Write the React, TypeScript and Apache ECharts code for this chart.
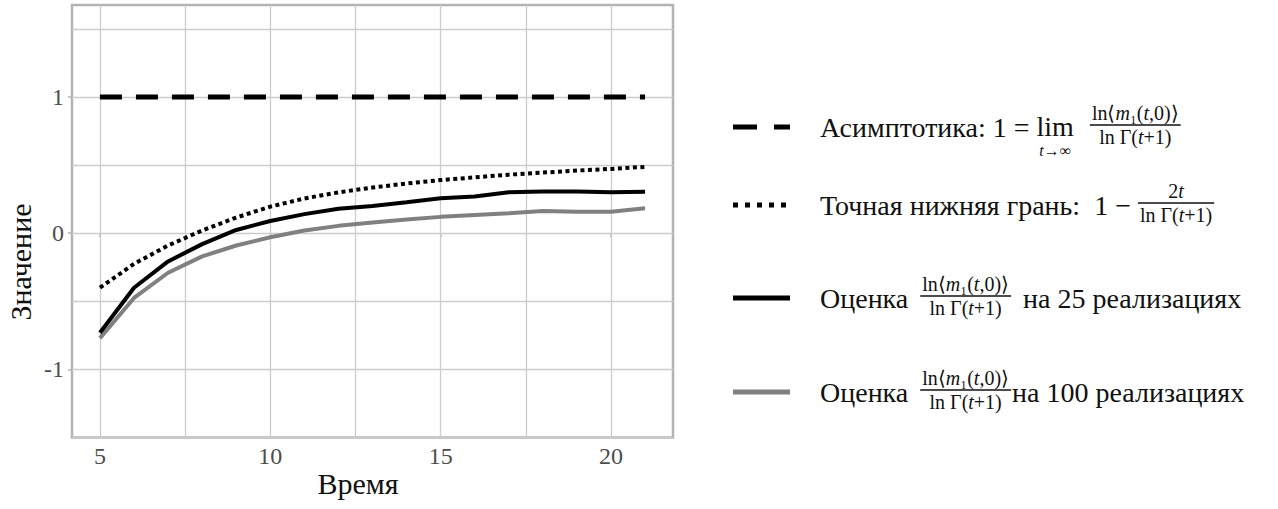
import React, { useEffect, useRef } from "react";
import * as echarts from "echarts";

// ---------- data ----------
const times = [5, 6, 7, 8, 9, 10, 11, 12, 13, 14, 15, 16, 17, 18, 19, 20, 21];
const asymptote = [1, 1, 1, 1, 1, 1, 1, 1, 1, 1, 1, 1, 1, 1, 1, 1, 1];
const lowerBound = [-0.4, -0.225, -0.09, 0.02, 0.115, 0.195, 0.255, 0.3, 0.335, 0.365, 0.39, 0.41, 0.43, 0.445, 0.46, 0.472, 0.487];
const est25 = [-0.73, -0.4, -0.207, -0.08, 0.024, 0.09, 0.14, 0.18, 0.2, 0.227, 0.256, 0.27, 0.3, 0.307, 0.307, 0.3, 0.305];
const est100 = [-0.77, -0.475, -0.29, -0.17, -0.09, -0.03, 0.02, 0.054, 0.078, 0.1, 0.12, 0.134, 0.146, 0.163, 0.158, 0.158, 0.183];
const xTickLabels = [5, 10, 15, 20];
const yTickLabels = [-1, 0, 1];
const xGridLines = [5, 7.5, 10, 12.5, 15, 17.5, 20];
const yGridLines = [-1.5, -1, -0.5, 0, 0.5, 1, 1.5];
const xAxisTitle = "Время";
const yAxisTitle = "Значение";

const SERIF = "'Liberation Serif', 'Times New Roman', serif";

let measureCtx: CanvasRenderingContext2D | null = null;
function measure(text: string, size: number, italic = false): number {
  if (!measureCtx) measureCtx = document.createElement("canvas").getContext("2d");
  if (!measureCtx) return text.length * size * 0.5;
  measureCtx.font = `${italic ? "italic " : ""}${size}px ${SERIF}`;
  return measureCtx.measureText(text).width;
}

type Seg = [string, boolean];
const MAIN = 28;
const SMALL = 20;
const SUB = 16;

function richText(segs: Seg[], size: number) {
  return {
    text: segs.map(([t, it]) => `{${it ? "i" : "n"}|${t}}`).join(""),
    rich: {
      n: { fontSize: size, fontFamily: SERIF, fill: "#111" },
      i: { fontSize: size, fontFamily: SERIF, fontStyle: "italic", fill: "#111" },
    },
  };
}
function segWidth(segs: Seg[], size: number) {
  return segs.reduce((s, [t, it]) => s + measure(t, size, it), 0);
}

const numLn: Seg[] = [["ln⟨", false], ["m", true], ["₁(", false], ["t", true], [",0)⟩", false]];
const denLn: Seg[] = [["ln Γ(", false], ["t", true], ["+1)", false]];
const num2t: Seg[] = [["2", false], ["t", true]];

function plainText(text: string, x: number, y: number, size = MAIN) {
  return {
    type: "text",
    x,
    y,
    style: { text, fontSize: size, fontFamily: SERIF, fill: "#111", align: "left", verticalAlign: "middle" },
    silent: true,
  };
}

function fraction(els: any[], x: number, y: number, num: Seg[], den: Seg[]) {
  const w = Math.max(segWidth(num, SMALL), segWidth(den, SMALL)) + 4;
  const cx = x + w / 2;
  const by = y - 2;
  els.push({
    type: "text",
    x: cx,
    y: by - 2,
    style: { ...richText(num, SMALL), align: "center", verticalAlign: "bottom" },
    silent: true,
  });
  els.push({
    type: "line",
    shape: { x1: x, y1: by, x2: x + w, y2: by },
    style: { stroke: "#111", lineWidth: 1.3 },
    silent: true,
  });
  els.push({
    type: "text",
    x: cx,
    y: by + 2,
    style: { ...richText(den, SMALL), align: "center", verticalAlign: "top" },
    silent: true,
  });
  return w;
}

function buildLegend() {
  const els: any[] = [];
  const kx1 = 733;
  const kx2 = 790;
  const tx = 820;
  const rows = [127, 205, 298, 392];

  // keys
  els.push({ type: "line", shape: { x1: kx1, y1: rows[0], x2: kx2, y2: rows[0] }, style: { stroke: "#000", lineWidth: 5, lineDash: [24, 17] }, silent: true });
  els.push({ type: "line", shape: { x1: kx1, y1: rows[1], x2: kx2, y2: rows[1] }, style: { stroke: "#000", lineWidth: 5, lineDash: [5, 7] }, silent: true });
  els.push({ type: "line", shape: { x1: kx1, y1: rows[2], x2: kx2, y2: rows[2] }, style: { stroke: "#000", lineWidth: 5 }, silent: true });
  els.push({ type: "line", shape: { x1: kx1, y1: rows[3], x2: kx2, y2: rows[3] }, style: { stroke: "#808080", lineWidth: 5 }, silent: true });

  // row 1
  let cx = tx;
  const t1 = "Асимптотика: 1 = ";
  els.push(plainText(t1, cx, rows[0]));
  cx += measure(t1, MAIN);
  const wl = measure("lim", MAIN);
  const sub: Seg[] = [["t", true], ["→∞", false]];
  const ws = segWidth(sub, SUB);
  const bw = Math.max(wl, ws);
  els.push(plainText("lim", cx + (bw - wl) / 2, rows[0] - 1));
  els.push({
    type: "text",
    x: cx + bw / 2,
    y: rows[0] + 15,
    style: { ...richText(sub, SUB), align: "center", verticalAlign: "top" },
    silent: true,
  });
  cx += bw + 16;
  fraction(els, cx, rows[0], numLn, denLn);

  // row 2
  cx = tx;
  const t2 = "Точная нижняя грань:  1 − ";
  els.push(plainText(t2, cx, rows[1]));
  cx += measure(t2, MAIN);
  fraction(els, cx, rows[1], num2t, denLn);

  // row 3
  cx = tx;
  const t3 = "Оценка ";
  els.push(plainText(t3, cx, rows[2]));
  cx += measure(t3, MAIN) + 5;
  cx += fraction(els, cx, rows[2], numLn, denLn) + 5;
  els.push(plainText(" на 25 реализациях", cx, rows[2]));

  // row 4
  cx = tx;
  els.push(plainText(t3, cx, rows[3]));
  cx += measure(t3, MAIN) + 5;
  cx += fraction(els, cx, rows[3], numLn, denLn) + 1;
  els.push(plainText("на 100 реализациях", cx, rows[3]));

  // axis titles
  els.push({
    type: "text",
    x: 358,
    y: 483,
    style: { text: xAxisTitle, fontSize: 30, fontFamily: SERIF, fill: "#111", align: "center", verticalAlign: "middle" },
    silent: true,
  });
  els.push({
    type: "text",
    x: 20,
    y: 262,
    rotation: Math.PI / 2,
    style: { text: yAxisTitle, fontSize: 30, fontFamily: SERIF, fill: "#111", align: "center", verticalAlign: "middle" },
    silent: true,
  });
  return els;
}

function pairs(values: number[]) {
  return times.map((t, i) => [t, values[i]]);
}

export default function App() {
  const ref = useRef<HTMLDivElement>(null);
  useEffect(() => {
    if (!ref.current) return;
    const chart = echarts.init(ref.current, undefined, { renderer: "svg" });
    const gridLineData = [
      ...xGridLines.map((v) => ({ xAxis: v })),
      ...yGridLines.map((v) => ({ yAxis: v })),
    ];
    chart.setOption({
      animation: false,
      backgroundColor: "#ffffff",
      grid: {
        left: 72,
        top: 5,
        width: 601,
        height: 432.6,
        show: true,
        borderColor: "#b3b3b3",
        borderWidth: 2.5,
        backgroundColor: "transparent",
        outerBoundsMode: "none",
      },
      xAxis: {
        type: "value",
        min: 4.18,
        max: 21.82,
        axisLine: { show: false },
        splitLine: { show: false },
        axisTick: { show: true, length: 4, lineStyle: { color: "#b3b3b3", width: 1.5 }, customValues: xTickLabels },
        axisLabel: {
          customValues: xTickLabels,
          fontSize: 24,
          fontFamily: SERIF,
          color: "#4d4d4d",
          margin: 6,
        },
      },
      yAxis: {
        type: "value",
        min: -1.5,
        max: 1.675,
        axisLine: { show: false },
        splitLine: { show: false },
        axisTick: { show: true, length: 4, lineStyle: { color: "#b3b3b3", width: 1.5 }, customValues: yTickLabels },
        axisLabel: {
          customValues: yTickLabels,
          fontSize: 24,
          fontFamily: SERIF,
          color: "#4d4d4d",
          margin: 8,
        },
      },
      series: [
        {
          name: "grid",
          type: "line",
          z: 1,
          data: pairs(est100),
          showSymbol: false,
          lineStyle: { opacity: 0 },
          silent: true,
          markLine: {
            z: 1,
            silent: true,
            symbol: ["none", "none"],
            label: { show: false },
            lineStyle: { color: "#cccccc", width: 1.3, type: "solid" },
            data: gridLineData,
          },
        },
        {
          name: "Асимптотика",
          type: "line",
          z: 3,
          data: pairs(asymptote),
          showSymbol: false,
          lineStyle: { color: "#000", width: 5, type: [22, 14], cap: "butt" },
        },
        {
          name: "Точная нижняя грань",
          type: "line",
          z: 3,
          data: pairs(lowerBound),
          showSymbol: false,
          lineStyle: { color: "#000", width: 4, type: [4, 3.5], cap: "butt" },
        },
        {
          name: "Оценка 25",
          type: "line",
          z: 4,
          data: pairs(est25),
          showSymbol: false,
          lineStyle: { color: "#000", width: 4 },
        },
        {
          name: "Оценка 100",
          type: "line",
          z: 3,
          data: pairs(est100),
          showSymbol: false,
          lineStyle: { color: "#808080", width: 4 },
        },
      ],
      graphic: buildLegend(),
    });
    return () => chart.dispose();
  }, []);
  return <div ref={ref} style={{ position: "fixed", left: 0, top: 0, width: 1278, height: 509 }} />;
}
